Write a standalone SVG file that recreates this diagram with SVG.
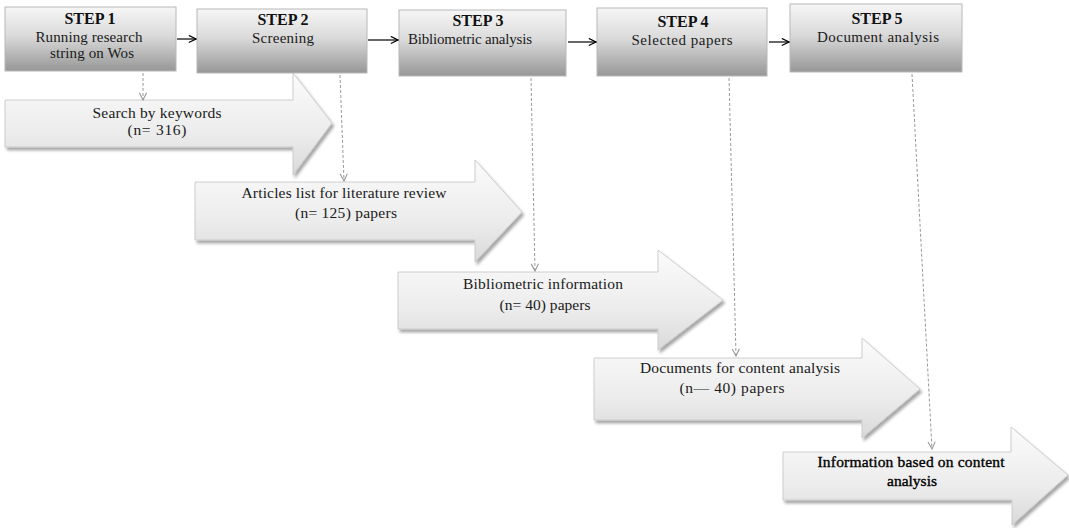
<svg xmlns="http://www.w3.org/2000/svg" width="1069" height="528" viewBox="0 0 1069 528">
<defs>
<linearGradient id="boxGrad" x1="0" y1="0" x2="0" y2="1">
<stop offset="0" stop-color="#f6f6f6"/>
<stop offset="0.45" stop-color="#dadada"/>
<stop offset="1" stop-color="#979797"/>
</linearGradient>
<linearGradient id="arrGrad" x1="0" y1="0" x2="0" y2="1">
<stop offset="0" stop-color="#fbfbfb"/>
<stop offset="0.6" stop-color="#ececec"/>
<stop offset="1" stop-color="#d9d9d9"/>
</linearGradient>
<filter id="shadow" x="-5%" y="-10%" width="115%" height="130%">
<feDropShadow dx="2" dy="3" stdDeviation="1.8" flood-color="#000" flood-opacity="0.35"/>
</filter>
<marker id="blackHead" viewBox="0 0 10 10" refX="9" refY="5" markerWidth="9" markerHeight="9" markerUnits="userSpaceOnUse" orient="auto">
<path d="M1,1 L9,5 L1,9" fill="none" stroke="#000" stroke-width="1.3"/>
</marker>
<marker id="grayHead" viewBox="0 0 10 10" refX="9" refY="5" markerWidth="9" markerHeight="9" markerUnits="userSpaceOnUse" orient="auto">
<path d="M1,1 L9,5 L1,9" fill="none" stroke="#999" stroke-width="1.2"/>
</marker>
</defs>
<style>
.box { fill: url(#boxGrad); stroke: #b8b8b8; stroke-width: 1; }
.arrow { fill: url(#arrGrad); stroke: #c4c4c4; stroke-width: 0.8; filter: url(#shadow); }
.step { font-family: "Liberation Serif", "Times New Roman", serif; font-weight: bold; font-size: 16px; fill: #111; text-anchor: middle; }
.sub { font-family: "Liberation Serif", "Times New Roman", serif; font-size: 15px; fill: #1a1a1a; text-anchor: middle; }
.lbl { font-family: "Liberation Serif", "Times New Roman", serif; font-size: 15.5px; fill: #1a1a1a; text-anchor: middle; }
.lblb { font-family: "Liberation Serif", "Times New Roman", serif; font-size: 15.5px; fill: #000; stroke: #000; stroke-width: 0.35; text-anchor: middle; }
.flow { stroke: #000; stroke-width: 1.2; fill: none; marker-end: url(#blackHead); }
.dot { stroke: #999; stroke-width: 1; stroke-dasharray: 3 2; fill: none; marker-end: url(#grayHead); }
</style>

<g id="result1">
<path class="arrow" d="M5,100 H293 V73 L332,123 L293,175 V147 H5 Z"/>
<text class="lbl" x="157" y="118" textLength="129" lengthAdjust="spacing">Search by keywords</text>
<text class="lbl" x="157" y="135" textLength="59" lengthAdjust="spacing">(n= 316)</text>
</g>
<g id="result2">
<path class="arrow" d="M195,182 H475 V160 L522,212 L475,262 V240 H195 Z"/>
<text class="lbl" x="344" y="198" textLength="205" lengthAdjust="spacing">Articles list for literature review</text>
<text class="lbl" x="346" y="218" textLength="102" lengthAdjust="spacing">(n= 125) papers</text>
</g>
<g id="result3">
<path class="arrow" d="M398,272 H658 V250 L723,300 L658,350 V329 H398 Z"/>
<text class="lbl" x="543" y="289" textLength="160" lengthAdjust="spacing">Bibliometric information</text>
<text class="lbl" x="545" y="310" textLength="91" lengthAdjust="spacing">(n= 40) papers</text>
</g>
<g id="result4">
<path class="arrow" d="M594,358 H862 V338 L920,389 L862,438 V420 H594 Z"/>
<text class="lbl" x="740" y="373" textLength="200" lengthAdjust="spacing">Documents for content analysis</text>
<text class="lbl" x="732" y="393" textLength="105" lengthAdjust="spacing">(n— 40) papers</text>
</g>
<g id="result5">
<path class="arrow" d="M783,452 H1011 V427 L1068,475 L1012,525 V500 H783 Z"/>
<text class="lblb" x="911" y="467" textLength="187" lengthAdjust="spacing">Information based on content</text>
<text class="lblb" x="912" y="486">analysis</text>
</g>

<g id="step1">
<rect class="box" x="5" y="7" width="171" height="64"/>
<text class="step" x="90" y="24">STEP 1</text>
<text class="sub" x="89" y="42" textLength="107" lengthAdjust="spacing">Running research</text>
<text class="sub" x="92" y="58" textLength="84" lengthAdjust="spacing">string on Wos</text>
</g>
<g id="step2">
<rect class="box" x="197" y="9" width="170" height="64"/>
<text class="step" x="283" y="25">STEP 2</text>
<text class="sub" x="283" y="43" textLength="62" lengthAdjust="spacing">Screening</text>
</g>
<g id="step3">
<rect class="box" x="399" y="10" width="167" height="66"/>
<text class="step" x="478" y="26">STEP 3</text>
<text class="sub" x="470" y="44" textLength="124" lengthAdjust="spacing">Bibliometric analysis</text>
</g>
<g id="step4">
<rect class="box" x="597" y="8" width="170" height="68"/>
<text class="step" x="683" y="27">STEP 4</text>
<text class="sub" x="682" y="45" textLength="101" lengthAdjust="spacing">Selected papers</text>
</g>
<g id="step5">
<rect class="box" x="790" y="4" width="172" height="68"/>
<text class="step" x="877" y="24">STEP 5</text>
<text class="sub" x="878" y="42" textLength="122" lengthAdjust="spacing">Document analysis</text>
</g>

<g id="connectors">
<line class="flow" x1="177" y1="39" x2="196" y2="39"/>
<line class="flow" x1="368" y1="40" x2="398" y2="40"/>
<line class="flow" x1="568" y1="42" x2="596" y2="42"/>
<line class="flow" x1="769" y1="42" x2="789" y2="42"/>
<line class="dot" x1="143" y1="73" x2="143" y2="100"/>
<line class="dot" x1="340" y1="75" x2="344" y2="181"/>
<line class="dot" x1="531" y1="78" x2="535" y2="271"/>
<line class="dot" x1="729" y1="78" x2="736" y2="356"/>
<line class="dot" x1="912" y1="74" x2="932" y2="449"/>
</g>
</svg>
